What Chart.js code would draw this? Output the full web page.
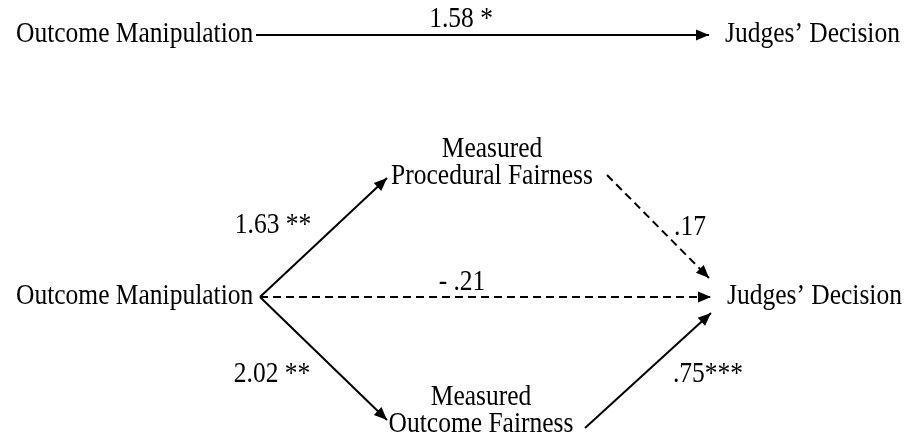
<!DOCTYPE html>
<html>
<head>
<meta charset="utf-8">
<script src="https://cdn.jsdelivr.net/npm/chart.js@4/dist/chart.umd.min.js"></script>
<style>
  html, body { margin: 0; padding: 0; background: #fff; }
  #pathChart { display: block; }
</style>
</head>
<body>
<canvas id="pathChart" width="907" height="447"></canvas>
<script>
// data: variables and path coefficients
var variables = ["Outcome Manipulation", "Judges\u2019 Decision", "Measured\nProcedural Fairness", "Measured\nOutcome Fairness"];
var coefficients = ["1.58 *", "1.63 **", "- .21", ".17", "2.02 **", ".75***"];
var significant = [true, true, false, false, true, true];

// layout (pixel space of the 907x447 picture)
// edge: [x1, y1, x2, y2] (x2,y2 = arrow tip)
var edgePos = [
  [256, 35, 709, 35],
  [260, 297, 387, 178],
  [260, 297, 711, 297],
  [607, 175, 709, 278],
  [260, 297, 387, 420],
  [585, 428, 711, 313]
];
// coefficient label centre x, baseline y
var coefPos = [[461, 27], [273, 233], [462, 290], [690, 235], [272, 382], [708, 382]];
// node labels: [variable index, x, baseline y, align]
var nodePos = [
  [0, 16, 42, "left"],
  [1, 725, 42, "left"],
  [0, 16, 304, "left"],
  [1, 727, 304, "left"],
  [2, 492, 157, "center"],
  [3, 481, 405, "center"]
];

var FONT = "25.5px 'Liberation Serif', 'Times New Roman', serif";
var STRETCH = 1.12; // glyphs in the picture are a bit taller than wide
var LINE_GAP = 27;

var datasets = edgePos.map(function (e, i) {
  return {
    data: [{ x: e[0], y: e[1] }, { x: e[2], y: e[3] }],
    showLine: true,
    borderColor: "#000",
    borderWidth: 2,
    borderDash: significant[i] ? [] : [8, 5],
    pointRadius: 0,
    fill: false
  };
});

var arrowHeads = {
  id: "arrowHeads",
  afterDatasetsDraw: function (chart) {
    var ctx = chart.ctx;
    ctx.save();
    ctx.fillStyle = "#000";
    chart.data.datasets.forEach(function (ds, i) {
      var pts = chart.getDatasetMeta(i).data;
      var a = pts[0], b = pts[1];
      var ang = Math.atan2(b.y - a.y, b.x - a.x);
      var len = 13, half = 5.5;
      ctx.beginPath();
      ctx.moveTo(b.x, b.y);
      ctx.lineTo(b.x - len * Math.cos(ang) + half * Math.sin(ang), b.y - len * Math.sin(ang) - half * Math.cos(ang));
      ctx.lineTo(b.x - len * Math.cos(ang) - half * Math.sin(ang), b.y - len * Math.sin(ang) + half * Math.cos(ang));
      ctx.closePath();
      ctx.fill();
    });
    ctx.restore();
  }
};

function drawText(ctx, t, x, y) {
  ctx.save();
  ctx.translate(x, y);
  ctx.scale(1, STRETCH);
  ctx.fillText(t, 0, 0);
  ctx.restore();
}

var pathLabels = {
  id: "pathLabels",
  afterDraw: function (chart) {
    var ctx = chart.ctx;
    var sx = chart.scales.x, sy = chart.scales.y;
    ctx.save();
    ctx.font = FONT;
    ctx.fillStyle = "#000";
    ctx.textBaseline = "alphabetic";
    nodePos.forEach(function (n) {
      var lines = variables[n[0]].split("\n");
      ctx.textAlign = n[3];
      lines.forEach(function (t, k) {
        drawText(ctx, t, sx.getPixelForValue(n[1]), sy.getPixelForValue(n[2]) + k * LINE_GAP);
      });
    });
    ctx.textAlign = "center";
    coefficients.forEach(function (c, i) {
      drawText(ctx, c, sx.getPixelForValue(coefPos[i][0]), sy.getPixelForValue(coefPos[i][1]));
    });
    ctx.restore();
  }
};

var ctxP = document.getElementById("pathChart").getContext("2d");
var pathChart = new Chart(ctxP, {
  type: "scatter",
  data: { datasets: datasets },
  options: {
    responsive: false,
    animation: false,
    layout: { padding: 0 },
    scales: {
      x: { type: "linear", min: 0, max: 907, display: false },
      y: { type: "linear", min: 0, max: 447, reverse: true, display: false }
    },
    plugins: { legend: { display: false }, tooltip: { enabled: false } }
  },
  plugins: [arrowHeads, pathLabels]
});
</script>
</body>
</html>
